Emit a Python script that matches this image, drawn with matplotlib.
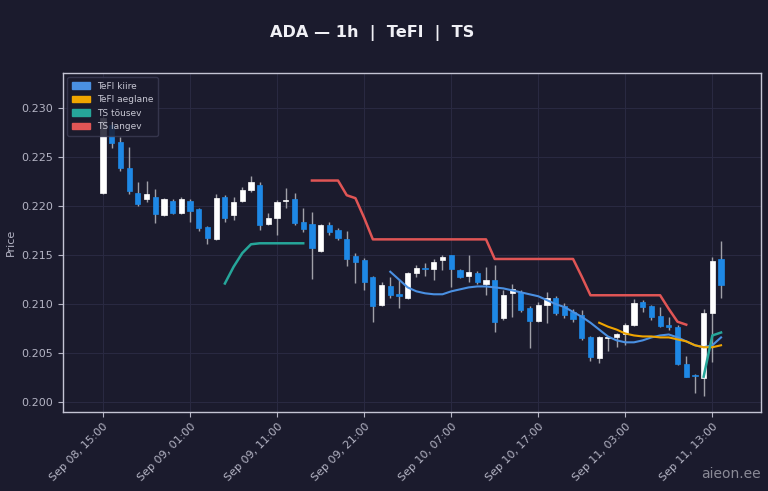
import numpy as np
import pandas as pd
import matplotlib
matplotlib.use('Agg')
import matplotlib.pyplot as plt
from matplotlib.patches import Patch

BG = '#1b1b2d'
UP = '#ffffff'
DOWN = '#1e88e5'
WICK = '#a0a0a8'

dates = pd.date_range('2025-09-08 15:00', periods=72, freq='h')

opens = [0.2213, 0.2283, 0.2265, 0.2239, 0.2213, 0.2207, 0.2209, 0.2191, 0.2205, 0.2193,
         0.2205, 0.2197, 0.2179, 0.2166, 0.2209, 0.2191, 0.2205, 0.2216, 0.2221, 0.2182,
         0.2188, 0.2205, 0.2207, 0.2184, 0.2182, 0.2154, 0.2181, 0.2176, 0.2166, 0.2149,
         0.2145, 0.2128, 0.2099, 0.2118, 0.2110, 0.2106, 0.2132, 0.2137, 0.2136, 0.2145,
         0.2150, 0.2135, 0.2129, 0.2132, 0.2120, 0.2125, 0.2086, 0.2111, 0.2112, 0.2096,
         0.2083, 0.2099, 0.2106, 0.2098, 0.2092, 0.2089, 0.2066, 0.2045, 0.2065, 0.2066,
         0.2070, 0.2079, 0.2102, 0.2098, 0.2088, 0.2079, 0.2077, 0.2039, 0.2028, 0.2025,
         0.2091, 0.2146]
highs = [0.2293, 0.2286, 0.2270, 0.2260, 0.2225, 0.2226, 0.2217, 0.2208, 0.2207, 0.2209,
         0.2207, 0.2198, 0.2180, 0.2212, 0.2211, 0.2209, 0.2219, 0.2231, 0.2224, 0.2193,
         0.2206, 0.2218, 0.2213, 0.2198, 0.2194, 0.2182, 0.2184, 0.2178, 0.2175, 0.2152,
         0.2147, 0.2129, 0.2123, 0.2128, 0.2125, 0.2133, 0.2140, 0.2142, 0.2146, 0.2150,
         0.2150, 0.2136, 0.2150, 0.2134, 0.2138, 0.2140, 0.2114, 0.2120, 0.2114, 0.2098,
         0.2102, 0.2112, 0.2108, 0.2101, 0.2095, 0.2094, 0.2067, 0.2067, 0.2067, 0.2071,
         0.2081, 0.2105, 0.2104, 0.2099, 0.2097, 0.2087, 0.2079, 0.2047, 0.2029, 0.2095,
         0.2148, 0.2164]
lows = [0.2212, 0.2259, 0.2236, 0.2212, 0.2200, 0.2204, 0.2183, 0.2190, 0.2192, 0.2192,
        0.2184, 0.2175, 0.2161, 0.2165, 0.2184, 0.2186, 0.2204, 0.2214, 0.2176, 0.2181,
        0.2170, 0.2198, 0.2181, 0.2174, 0.2126, 0.2153, 0.2170, 0.2165, 0.2139, 0.2122,
        0.2114, 0.2082, 0.2098, 0.2106, 0.2096, 0.2105, 0.2128, 0.2129, 0.2125, 0.2135,
        0.2117, 0.2127, 0.2123, 0.2120, 0.2109, 0.2072, 0.2084, 0.2087, 0.2092, 0.2055,
        0.2082, 0.2081, 0.2089, 0.2086, 0.2082, 0.2063, 0.2042, 0.2040, 0.2052, 0.2056,
        0.2058, 0.2078, 0.2092, 0.2084, 0.2077, 0.2074, 0.2038, 0.2026, 0.2009, 0.2006,
        0.2041, 0.2106]
closes = [0.2290, 0.2264, 0.2239, 0.2215, 0.2202, 0.2212, 0.2192, 0.2207, 0.2193, 0.2207,
          0.2195, 0.2178, 0.2167, 0.2208, 0.2188, 0.2204, 0.2216, 0.2224, 0.2181, 0.2188,
          0.2204, 0.2206, 0.2183, 0.2177, 0.2157, 0.2181, 0.2174, 0.2167, 0.2146, 0.2143,
          0.2123, 0.2098, 0.2119, 0.2109, 0.2108, 0.2132, 0.2137, 0.2136, 0.2143, 0.2148,
          0.2136, 0.2128, 0.2133, 0.2123, 0.2125, 0.2082, 0.2109, 0.2115, 0.2094, 0.2083,
          0.2099, 0.2106, 0.2091, 0.2089, 0.2085, 0.2065, 0.2046, 0.2066, 0.2066, 0.2069,
          0.2079, 0.2101, 0.2097, 0.2087, 0.2078, 0.2077, 0.2039, 0.2026, 0.2027, 0.2091,
          0.2144, 0.2119]

# indicator lines: (first candle index, values)
tefl_fast_start = 33
tefl_fast = [0.2133, 0.2125, 0.2117, 0.2113, 0.2111, 0.2110, 0.2110, 0.2113, 0.2115, 0.2117,
             0.2118, 0.2118, 0.2117, 0.2116, 0.2114, 0.2112, 0.2110, 0.2108, 0.2104, 0.2100,
             0.2097, 0.2092, 0.2087, 0.2081, 0.2074, 0.2067, 0.2063, 0.2061, 0.2061, 0.2063,
             0.2066, 0.2068, 0.2069, 0.2066, 0.2062, 0.2058, 0.2056, 0.2058, 0.2066]
tefl_slow_start = 57
tefl_slow = [0.2081, 0.2077, 0.2074, 0.2070, 0.2068, 0.2067, 0.2067, 0.2066, 0.2066, 0.2064,
             0.2062, 0.2058, 0.2056, 0.2056, 0.2058]
ts_up_a_start = 14
ts_up_a = [0.2121, 0.2138, 0.2152, 0.2161, 0.2162, 0.2162, 0.2162, 0.2162, 0.2162, 0.2162]
ts_up_b_start = 69
ts_up_b = [0.2026, 0.2068, 0.2071]
ts_down_start = 24
ts_down = [0.2226, 0.2226, 0.2226, 0.2226, 0.2211, 0.2208, 0.2188, 0.2166, 0.2166, 0.2166,
           0.2166, 0.2166, 0.2166, 0.2166, 0.2166, 0.2166, 0.2166, 0.2166, 0.2166, 0.2166,
           0.2166, 0.2146, 0.2146, 0.2146, 0.2146, 0.2146, 0.2146, 0.2146, 0.2146, 0.2146,
           0.2146, 0.2128, 0.2109, 0.2109, 0.2109, 0.2109, 0.2109, 0.2109, 0.2109, 0.2109,
           0.2109, 0.2095, 0.2082, 0.2079]


def series(start, values):
    s = np.full(len(dates), np.nan)
    s[start:start + len(values)] = values
    return s


df = pd.DataFrame({'open': opens, 'high': highs, 'low': lows, 'close': closes}, index=dates)
x = np.arange(len(df))
up = df['close'] >= df['open']

fig = plt.figure(figsize=(7.68, 4.91), dpi=100, facecolor=BG)
ax = fig.add_axes([0.082, 0.161, 0.909, 0.691], facecolor=BG)

ax.vlines(x, df['low'], df['high'], color=WICK, linewidth=1.0, zorder=2)
body_lo = np.minimum(df['open'], df['close'])
body_h = np.maximum((df['close'] - df['open']).abs(), 0.00008)
ax.bar(x, body_h, bottom=body_lo, width=0.6,
       color=np.where(up, UP, DOWN), edgecolor=np.where(up, UP, DOWN),
       linewidth=0.5, zorder=3)

ax.plot(x, series(tefl_fast_start, tefl_fast), color='#4a90e2', lw=1.5, zorder=4)
ax.plot(x, series(tefl_slow_start, tefl_slow), color='#f0a500', lw=1.5, zorder=4)
ax.plot(x, series(ts_up_a_start, ts_up_a), color='#26a69a', lw=1.8, zorder=4)
ax.plot(x, series(ts_up_b_start, ts_up_b), color='#26a69a', lw=1.8, zorder=4)
ax.plot(x, series(ts_down_start, ts_down), color='#e05555', lw=1.8, zorder=4)

ax.set_xlim(-4.6, len(df) - 1 + 4.6)
ax.set_ylim(0.1990, 0.2336)

ticks = x[::10]
ax.set_xticks(ticks)
ax.set_xticklabels([d.strftime('%b %d, %H:%M') for d in dates[ticks]],
                   rotation=45, ha='right', rotation_mode='anchor')
ax.set_yticks([0.200, 0.205, 0.210, 0.215, 0.220, 0.225, 0.230])
ax.yaxis.set_major_formatter(plt.FormatStrFormatter('%.3f'))

ax.tick_params(colors='#b4b4c4', labelsize=8, length=3.5, width=0.8)
for sp in ax.spines.values():
    sp.set_color('#c4c4d4')
    sp.set_linewidth(1.0)
ax.grid(True, color='#2a2a42', linewidth=0.7)
ax.set_axisbelow(True)
ax.set_ylabel('Price', color='#b4b4c4', fontsize=8)

handles = [Patch(color='#4a90e2', label='TeFl kiire'),
           Patch(color='#f0a500', label='TeFl aeglane'),
           Patch(color='#26a69a', label='TS tõusev'),
           Patch(color='#e05555', label='TS langev')]
leg = ax.legend(handles=handles, loc='upper left', fontsize=6.5, frameon=True,
                facecolor=BG, edgecolor='#3a3a52', framealpha=0.85,
                borderpad=0.5, labelspacing=0.5, handlelength=2.0)
for t in leg.get_texts():
    t.set_color('#c8c8d4')

fig.text(0.485, 0.932, 'ADA — 1h  |  TeFl  |  TS', ha='center', va='center',
         color='#f0f0f5', fontsize=11.6, fontweight='bold')
fig.text(0.99, 0.035, 'aieon.ee', ha='right', va='center', color='#8a8a96',
         fontsize=10)

fig.savefig('out.png', dpi=100, facecolor=BG)
